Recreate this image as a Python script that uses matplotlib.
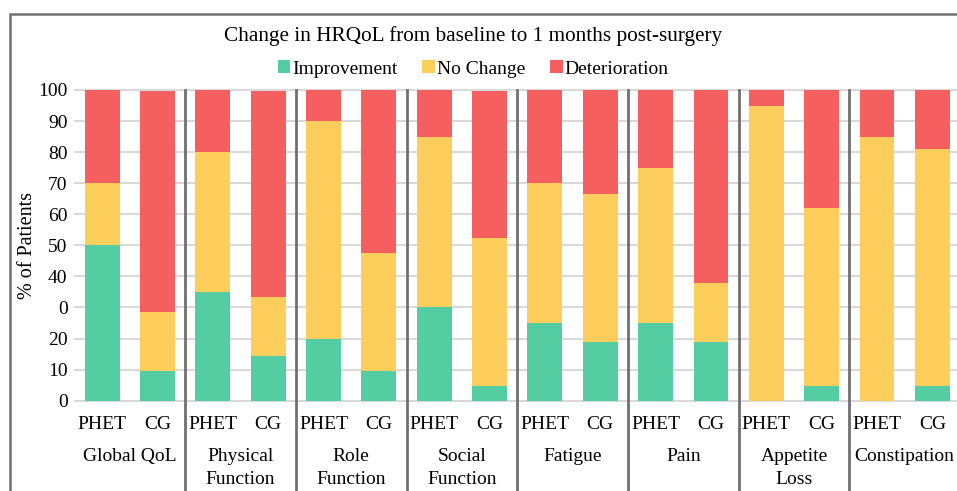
import matplotlib
matplotlib.use("Agg")
import matplotlib.pyplot as plt
from matplotlib.patches import Patch, Rectangle
from matplotlib.lines import Line2D
import matplotlib.transforms as mtransforms
import numpy as np

plt.rcParams['font.family'] = ['Liberation Serif', 'DejaVu Serif']

title = "Change in HRQoL from baseline to 1 months post-surgery"
categories = ["Global QoL", "Physical\nFunction", "Role\nFunction", "Social\nFunction",
              "Fatigue", "Pain", "Appetite\nLoss", "Constipation"]
groups = ["PHET", "CG"]
series_names = ["Improvement", "No Change", "Deterioration"]

improvement_phet = [50, 35, 20, 30, 25, 25, 0, 0]
nochange_phet = [20, 45, 70, 55, 45, 50, 95, 85]
deterioration_phet = [30, 20, 10, 15, 30, 25, 5, 15]

improvement_cg = [9.5, 14.3, 9.5, 4.8, 19.0, 19.0, 4.8, 4.8]
nochange_cg = [19.1, 19.1, 38.1, 47.6, 47.6, 19.0, 57.1, 76.2]
deterioration_cg = [71.1, 66.3, 52.4, 47.3, 33.3, 62.0, 38.1, 19.0]

ytick_values = [0, 10, 20, 30, 40, 50, 60, 70, 80, 90, 100]
ytick_labels = ["0", "10", "20", "0", "40", "50", "60", "70", "80", "90", "100"]

colors = ["#54CDA3", "#FECE5C", "#F65F5F"]
FS = 14

W, H = 957, 491
fig = plt.figure(figsize=(W / 100, H / 100), dpi=100)
ax_left, ax_right = 74.5, 960.0
ax_top, ax_bot = 90.0, 400.7
ax = fig.add_axes([ax_left / W, 1 - ax_bot / H, (ax_right - ax_left) / W, (ax_bot - ax_top) / H])

# interleave bars: PHET, CG per category
imp = []
nc = []
det = []
labels = []
for i in range(len(categories)):
    imp += [improvement_phet[i], improvement_cg[i]]
    nc += [nochange_phet[i], nochange_cg[i]]
    det += [deterioration_phet[i], deterioration_cg[i]]
    labels += groups
imp = np.array(imp); nc = np.array(nc); det = np.array(det)
x = np.arange(len(imp))
bw = 0.63
ax.bar(x, imp, bw, color=colors[0], zorder=3)
ax.bar(x, nc, bw, bottom=imp, color=colors[1], zorder=3)
ax.bar(x, det, bw, bottom=imp + nc, color=colors[2], zorder=3)

ax.set_xlim(-0.5, len(x) - 0.5)
ax.set_ylim(0, 100)
ax.set_yticks(ytick_values)
ax.set_yticklabels(ytick_labels, fontsize=FS)
ax.tick_params(axis='y', length=0, pad=5)
ax.set_xticks(x)
ax.set_xticklabels(labels, fontsize=FS)
ax.tick_params(axis='x', length=0, pad=11)
for s in ax.spines.values():
    s.set_visible(False)
ax.yaxis.grid(True, color="#d9d9d9", lw=1.5, zorder=0)
for gl in ax.get_ygridlines():
    gl.set_clip_on(False)
ax.set_axisbelow(True)

ax.set_ylabel("% of Patients", fontsize=FS + 0.5, labelpad=1)

# separators
for k in range(1, len(categories) + 1):
    xs = 2 * k - 0.5
    ax.add_line(Line2D([xs, xs], [100, -40], color="#707070", lw=2, clip_on=False, zorder=4))

# category labels
trans = mtransforms.blended_transform_factory(ax.transData, ax.transAxes)
for i, c in enumerate(categories):
    ax.text(2 * i + 0.5, -0.152, c, transform=trans, ha='center', va='top',
            fontsize=FS, linespacing=1.5)

# title
fig.text(473 / W, 1 - 36 / H, title, ha='center', va='center', fontsize=FS + 1.3)

# legend
handles = [Patch(facecolor=c, edgecolor='none') for c in colors]
fig.legend(handles, series_names, loc='center', bbox_to_anchor=(473 / W, 1 - 69 / H),
           ncol=3, frameon=False, fontsize=FS, handlelength=0.65, handleheight=0.65,
           handletextpad=0.08, columnspacing=1.3, borderaxespad=0)

# outer border
fig.patches.append(Rectangle((9.5 / W, -0.1), 2.0, (1 - 13.5 / H) + 0.1, fill=False,
                             edgecolor="#707070", lw=1.8, transform=fig.transFigure))

fig.savefig("out.png", dpi=100)
